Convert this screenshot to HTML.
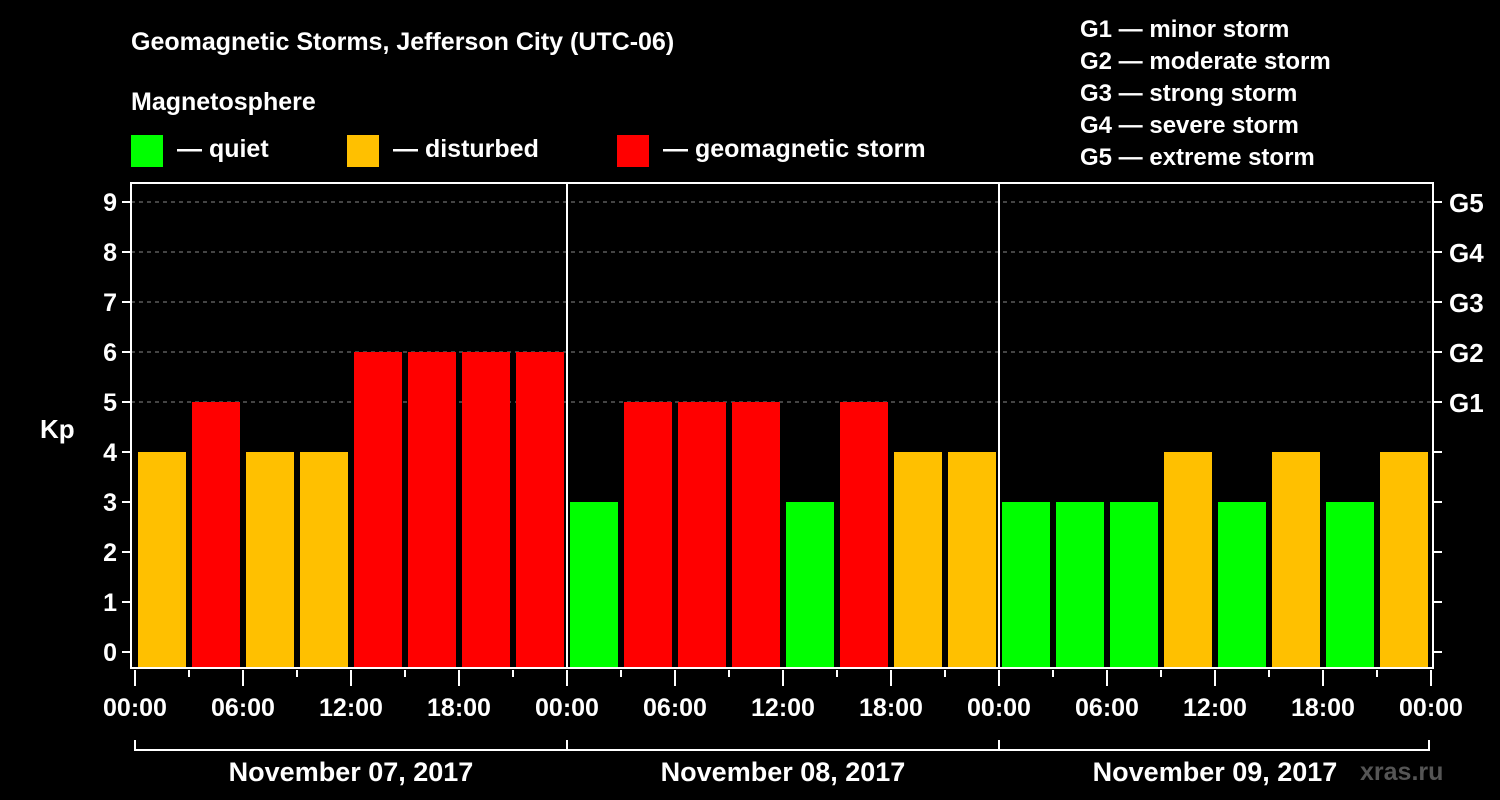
<!DOCTYPE html>
<html><head><meta charset="utf-8"><style>
body{margin:0;background:#000;}
svg{display:block;font-family:"Liberation Sans",Arial,sans-serif;font-weight:bold;}
</style></head><body>
<svg id="c" width="1500" height="800" xmlns="http://www.w3.org/2000/svg">
<rect width="1500" height="800" fill="#000"/>
<text x="131" y="50" fill="#fff" font-size="25">Geomagnetic Storms, Jefferson City (UTC-06)</text>
<text x="131" y="110" fill="#fff" font-size="25">Magnetosphere</text>
<g><rect x="131" y="135" width="32" height="32" fill="#00ff00"/><text x="177" y="157" fill="#fff" font-size="25">— quiet</text></g>
<g><rect x="347" y="135" width="32" height="32" fill="#ffc000"/><text x="393" y="157" fill="#fff" font-size="25">— disturbed</text></g>
<g><rect x="617" y="135" width="32" height="32" fill="#ff0000"/><text x="663" y="157" fill="#fff" font-size="25">— geomagnetic storm</text></g>
<g fill="#fff" font-size="24">
<text x="1080" y="37">G1 — minor storm</text>
<text x="1080" y="69">G2 — moderate storm</text>
<text x="1080" y="101">G3 — strong storm</text>
<text x="1080" y="133">G4 — severe storm</text>
<text x="1080" y="165">G5 — extreme storm</text>
</g>
<text x="40" y="438" fill="#fff" font-size="26">Kp</text>
<text x="1360" y="780" fill="#555" font-size="25">xras.ru</text>
<g id="plot"></g>
</svg>
<script>
const kpValues=[4,5,4,4,6,6,6,6,3,5,5,5,3,5,4,4,3,3,3,4,3,4,3,4];
const dayLabels=["November 07, 2017","November 08, 2017","November 09, 2017"];
const yTicks=[0,1,2,3,4,5,6,7,8,9];
const gLabels=["G1","G2","G3","G4","G5"];
const hourLabels=["00:00","06:00","12:00","18:00"];
const NS="http://www.w3.org/2000/svg";
const g=document.getElementById('plot');
const X0=135,X1=1431,TOP=183,BOT=668;
const slot=(X1-X0)/kpValues.length;
function x(i){return X0+i*slot;}
function y(v){return 652-v*50;}
function mk(t,a,p){const e=document.createElementNS(NS,t);for(const k in a)e.setAttribute(k,a[k]);(p||g).appendChild(e);return e;}
function col(v){return v>=5?'#ff0000':(v>=4?'#ffc000':'#00ff00');}
// grid
yTicks.forEach(v=>{
 if(v>=5){const l=mk('line',{x1:131,x2:1433,y1:y(v),y2:y(v),stroke:'#888','stroke-dasharray':'4,4','stroke-width':1});
 
 }
 const t=mk('line',{x1:122,x2:131,y1:y(v),y2:y(v),stroke:'#fff','stroke-width':2});
 
 
 const r=mk('line',{x1:1433,x2:1442,y1:y(v),y2:y(v),stroke:'#fff','stroke-width':2});
 
 
 const tx=mk('text',{x:117,y:y(v)+9,fill:'#fff','font-size':25,'text-anchor':'end'});
 tx.textContent=v;
 
 
});
gLabels.forEach((s,i)=>{
 const tx=mk('text',{x:1449,y:y(5+i)+10,fill:'#fff','font-size':26});
 tx.textContent=s;
 
 
});
// bars
kpValues.forEach((v,i)=>{
 const b=mk('rect',{x:x(i)+3,y:y(v),width:slot-6,height:BOT-y(v),fill:col(v)});
 
 
});
// frame
const f=mk('rect',{x:131,y:TOP,width:1302,height:BOT-TOP,fill:'none',stroke:'#fff','stroke-width':2});


for(let d=1;d<dayLabels.length;d++){
 const l=mk('line',{x1:x(d*8),x2:x(d*8),y1:TOP,y2:BOT,stroke:'#fff','stroke-width':2});
 
 
}
// x ticks
for(let i=0;i<=kpValues.length;i++){
 const major=i%2===0;
 const t=mk('line',{x1:x(i),x2:x(i),y1:BOT+2,y2:major?686:677,stroke:'#fff','stroke-width':2});
 
 
 if(major){
  const tx=mk('text',{x:x(i),y:716,fill:'#fff','font-size':25,'text-anchor':'middle'});
  tx.textContent=hourLabels[(i/2)%4];
  
  
 }
}
// day brackets
const br=mk('path',{d:`M${X0},740V750H${X1-2}V740`,fill:'none',stroke:'#fff','stroke-width':2});


dayLabels.forEach((s,d)=>{
 const l=mk('line',{x1:x(d*8),x2:x(d*8),y1:740,y2:750,stroke:'#fff','stroke-width':2});
 
 
 const tx=mk('text',{x:x(d*8+4),y:781,fill:'#fff','font-size':27,'text-anchor':'middle'});
 tx.textContent=s;
 
 
});
</script>
</body></html>
